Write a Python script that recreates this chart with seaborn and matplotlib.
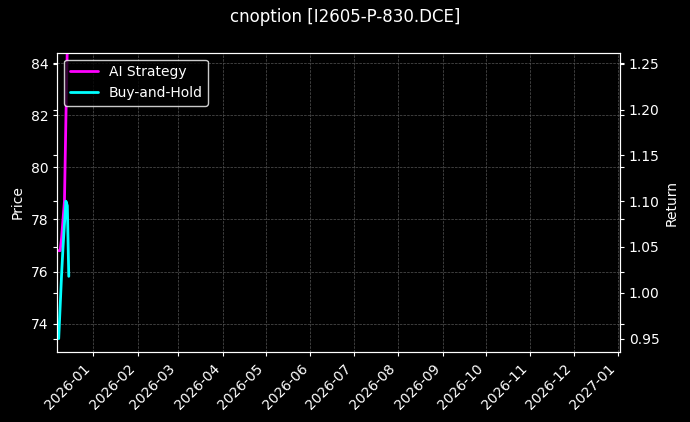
import numpy as np
import pandas as pd
import matplotlib
matplotlib.use("Agg")
import matplotlib.pyplot as plt
import matplotlib.dates as mdates
import seaborn as sns

dates = pd.to_datetime(["2025-12-08", "2025-12-09", "2025-12-10", "2025-12-11",
                        "2025-12-12", "2025-12-13", "2025-12-14", "2025-12-15"])
ai_ret = [1.046, 1.046, 1.06, 1.08, 1.10, 1.19, 1.27, np.nan]
bh_ret = [0.95, 0.985, 1.02, 1.05, 1.075, 1.10, 1.095, 1.018]

sns.set_style("dark")
plt.rcParams.update({"figure.facecolor": "black", "axes.facecolor": "black",
                     "text.color": "white", "axes.labelcolor": "white",
                     "xtick.color": "white", "ytick.color": "white",
                     "axes.edgecolor": "white"})
plt.rcParams["font.family"] = ["DejaVu Sans"]

fig, ax = plt.subplots(figsize=(6.9, 4.22), dpi=100)
ax2 = ax.twinx()
df = pd.DataFrame({"date": dates, "AI Strategy": ai_ret, "Buy-and-Hold": bh_ret})
sns.lineplot(data=df, x="date", y="AI Strategy", ax=ax2, color="#ff00ff", lw=2, label="AI Strategy")
sns.lineplot(data=df, x="date", y="Buy-and-Hold", ax=ax2, color="#00ffff", lw=2, label="Buy-and-Hold")
ax2.set_ylim(0.935, 1.262)
ax.set_ylim(72.9, 84.4)
ax.set_xlim(pd.Timestamp("2025-12-07"), pd.Timestamp("2027-01-02"))
ax.set_ylabel("Price")
ax2.set_ylabel("Return")
ax.set_xlabel("")
ax.grid(True, color="#555555", ls="--", lw=0.5)
ax.xaxis.set_major_locator(mdates.MonthLocator())
ax.xaxis.set_major_formatter(mdates.DateFormatter("%Y-%m"))
ax.xaxis.set_minor_locator(matplotlib.ticker.NullLocator())
plt.setp(ax.get_xticklabels(), rotation=45, ha="right")
for a in (ax, ax2):
    a.yaxis.set_minor_locator(matplotlib.ticker.NullLocator())
    for s in a.spines.values():
        s.set_color("white")
    a.tick_params(colors="white", left=True, right=True, bottom=True, length=3)
leg = ax2.legend(loc="upper left", facecolor="black", edgecolor="white")
for t in leg.get_texts():
    t.set_color("white")
fig.suptitle("cnoption [I2605-P-830.DCE]", color="white")
fig.subplots_adjust(left=0.083, right=0.898, top=0.875, bottom=0.165)
fig.savefig("out.png", dpi=100, facecolor="black")
